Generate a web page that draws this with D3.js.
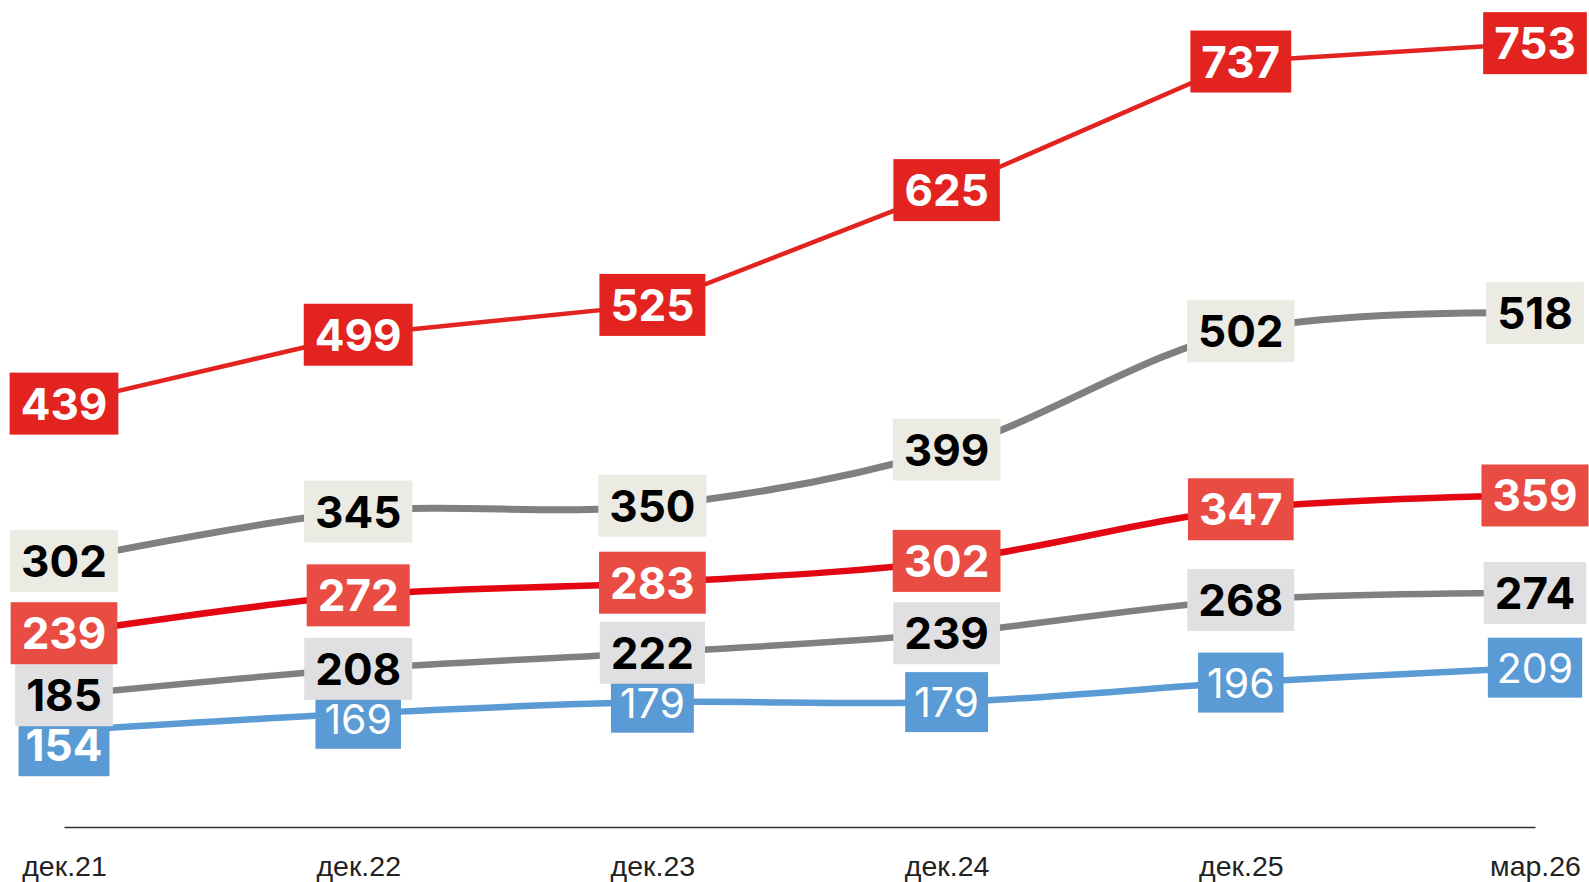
<!DOCTYPE html>
<html>
<head>
<meta charset="utf-8">
<script src="https://cdn.jsdelivr.net/npm/d3@7"></script>
<style>
  html, body { margin: 0; padding: 0; background: #fff; }
  svg { display: block; }
</style>
</head>
<body>
<svg id="chart" width="1589" height="882"></svg>
<script>
// ---- data ----
const categories = ["дек.21", "дек.22", "дек.23", "дек.24", "дек.25", "мар.26"];
const seriesA = [439, 499, 525, 625, 737, 753];
const seriesB = [302, 345, 350, 399, 502, 518];
const seriesC = [239, 272, 283, 302, 347, 359];
const seriesD = [185, 208, 222, 239, 268, 274];
const seriesE = [154, 169, 179, 179, 196, 209];

// ---- styles ----
const series = [
  { key: "A", values: seriesA, line: "#e2231f", width: 4.5, box: "#e2231f", text: "#ffffff", weight: 700, size: 44, h: 62, pad: 22, curve: d3.curveLinear },
  { key: "B", values: seriesB, line: "#808080", width: 7,   box: "#ebebe3", text: "#000000", weight: 700, size: 44, h: 62, pad: 22, curve: d3.curveCatmullRom.alpha(0.5) },
  { key: "C", values: seriesC, line: "#e30613", width: 6.5, box: "#e84c43", text: "#ffffff", weight: 700, size: 44, h: 62, pad: 22, curve: d3.curveCatmullRom.alpha(0.5) },
  { key: "D", values: seriesD, line: "#808080", width: 6.5, box: "#e0e0e2", text: "#000000", weight: 700, size: 44, h: 62, pad: 22, curve: d3.curveCatmullRom.alpha(0.5) },
  { key: "E", values: seriesE, line: "#5b9bd5", width: 6.5, box: "#5b9bd5", text: "#ffffff", weight: 400, size: 41, h: 60, pad: 18, curve: d3.curveCatmullRom.alpha(0.5), boldAt: [0] }
];

const svg = d3.select("#chart");

const x = d3.scalePoint().domain(categories).range([64, 1535]);
const y = d3.scaleLinear().domain([0, 790]).range([907.6, 907.6 - 1.148 * 790]);

// axis baseline
const axisY = 827;
const xAxis = d3.axisBottom(x).tickSize(0).tickPadding(29);
const ax = svg.append("g").attr("transform", `translate(0,${axisY})`).call(xAxis);
ax.select(".domain").attr("stroke", "#333").attr("stroke-width", 1.5);
ax.selectAll("text")
  .attr("font-family", "'Liberation Sans', Arial, sans-serif")
  .attr("font-size", 28.5)
  .attr("fill", "#222");

// lines
series.forEach(s => {
  const line = d3.line()
    .x((d, i) => x(categories[i]))
    .y(d => y(d))
    .curve(s.curve);
  svg.append("path")
    .datum(s.values)
    .attr("d", line)
    .attr("fill", "none")
    .attr("stroke", s.line)
    .attr("stroke-width", s.width);
});

// label positions (blue labels pushed below the boxes of the series above when they collide)
function labelY(s, i) {
  const py = y(s.values[i]);
  if (s.key === "E") {
    const above = y(seriesD[i]) + 50;
    return Math.max(py, above);
  }
  return py;
}

// draw labels: bottom series first so upper boxes cover lower ones
const order = series.slice().reverse();
order.forEach(s => {
  const g = svg.append("g");
  s.values.forEach((v, i) => {
    const cx = x(categories[i]);
    const cy = labelY(s, i);
    const bold = s.boldAt && s.boldAt.includes(i);
    const lg = g.append("g");
    const rect = lg.append("rect").attr("fill", s.box);
    const t = lg.append("text")
      .attr("x", cx)
      .attr("y", cy)
      .attr("text-anchor", "middle")
      .attr("dominant-baseline", "central")
      .attr("font-family", "Inter, 'Noto Sans', sans-serif")
      .attr("font-weight", bold ? 700 : s.weight)
      .attr("font-size", bold ? 44 : s.size)
      .attr("fill", s.text)
      .text(v);
    const bb = t.node().getBBox();
    const bw = bb.width + (bold ? 14 : s.pad);
    rect.attr("x", cx - bw / 2)
      .attr("y", cy - (bold ? 62 : s.h) / 2)
      .attr("width", bw)
      .attr("height", bold ? 62 : s.h);
  });
});
</script>
</body>
</html>
